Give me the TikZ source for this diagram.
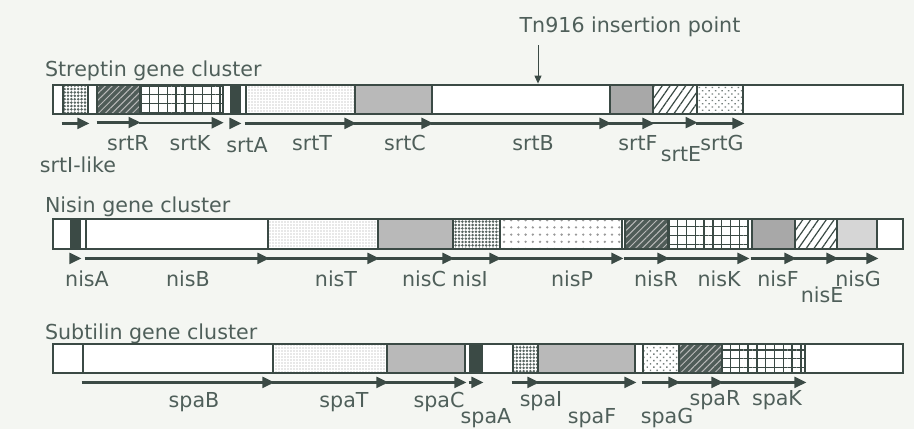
\documentclass[tikz,border=0pt]{standalone}
\usepackage{fontspec}
\setmainfont{DejaVu Sans}
\usetikzlibrary{positioning, arrows.meta, calc, fit, patterns.meta}
\definecolor{ink}{HTML}{3B4A45}
\definecolor{txt}{HTML}{4F5F5A}
\definecolor{paper}{HTML}{F4F6F2}

\begin{document}
\begin{tikzpicture}[x=0.5pt, y=-0.5pt,
      every node/.style={font=\fontsize{10.3}{12}\selectfont, color=txt},
      cluster/.style={anchor=base west},
      lbl/.style={anchor=base},
      bar/.style={draw=ink, line width=0.6pt, fill=white, inner sep=0pt},
      gene/.style={draw=ink, line width=1.4pt, inner sep=0pt},
      plain/.style={gene, fill=white},
      speck/.style={gene, preaction={fill=white},
        pattern={Dots[radius=0.7pt, distance=1.7pt]}, pattern color=ink!85},
      dark/.style={gene, preaction={fill=ink!90},
        pattern={Lines[angle=45, distance=2.4pt, line width=0.5pt]}, pattern color=gray!55},
      grid/.style={gene, preaction={fill=white},
        pattern={Hatch[angle=0, distance=4.4pt, line width=0.7pt]}, pattern color=ink},
      solid/.style={gene, fill=ink},
      fine/.style={gene, preaction={fill=white},
        pattern={Dots[radius=0.35pt, distance=1.5pt]}, pattern color=gray!75},
      grey/.style={gene, fill=gray!55},
      greydark/.style={gene, fill=gray!68},
      greylight/.style={gene, fill=gray!32},
      slant/.style={gene, preaction={fill=white},
        pattern={Lines[angle=55, distance=3.2pt, line width=0.6pt]}, pattern color=ink},
      wavy/.style={gene, preaction={fill=white},
        pattern={Dots[angle=45, radius=0.5pt, distance=2.3pt]}, pattern color=ink!70},
      sparse/.style={gene, preaction={fill=white},
        pattern={Dots[radius=0.65pt, distance=3.6pt]}, pattern color=gray!80},
      garrow/.style={draw=ink, line width=1.1pt, -{Triangle[length=6pt, width=5.5pt]}},
      tnarrow/.style={draw=ink, line width=0.5pt, -{Triangle[length=4pt, width=3.5pt]}}]

    \fill[paper] (0,0) rectangle (914,429);
    \useasboundingbox (0,0) rectangle (914,429);

    % streptin
    \node[cluster] (tStrep) at (38,76) {Streptin gene cluster};
    \node[bar, fit={(53,85) (903,114)}] (strep) {};
    \node[speck, fit={(63,85) (88,114)}] (srtI) {};
    \node[dark, fit={(97,85) (140,114)}] (srtR) {};
    \node[grid, fit={(140,85) (223,114)}] (srtK) {};
    \node[solid, fit={(231,85) (240,114)}] (srtA) {};
    \node[fine, fit={(246,85) (355,114)}] (srtT) {};
    \node[grey, fit={(355,85) (432,114)}] (srtC) {};
    \node[plain, fit={(432,85) (610,114)}] (srtB) {};
    \node[greydark, fit={(610,85) (653,114)}] (srtF) {};
    \node[slant, fit={(653,85) (697,114)}] (srtE) {};
    \node[wavy, fit={(697,85) (743,114)}] (srtG) {};

    \node[anchor=base] (tn) at (630,32) {Tn916 insertion point};
    \coordinate (ins) at (538,45);
    \draw[tnarrow] (ins) -- (ins |- srtB.north);

    % nisin
    \node[cluster] (tNis) at (38,212) {Nisin gene cluster};
    \node[bar, fit={(53,219) (903,249)}] (nis) {};
    \node[solid, fit={(71,219) (80,249)}] (nisA) {};
    \node[plain, fit={(86,219) (268,249)}] (nisB) {};
    \node[fine, fit={(268,219) (378,249)}] (nisT) {};
    \node[grey, fit={(378,219) (453,249)}] (nisC) {};
    \node[speck, fit={(453,219) (500,249)}] (nisI) {};
    \node[sparse, fit={(500,219) (622,249)}] (nisP) {};
    \node[dark, fit={(625,219) (668,249)}] (nisR) {};
    \node[grid, fit={(668,219) (748,249)}] (nisK) {};
    \node[greydark, fit={(752,219) (795,249)}] (nisF) {};
    \node[slant, fit={(795,219) (837,249)}] (nisE) {};
    \node[greylight, fit={(837,219) (877,249)}] (nisG) {};

    % subtilin
    \node[cluster] (tSpa) at (38,339) {Subtilin gene cluster};
    \node[bar, fit={(53,344) (903,373)}] (spa) {};
    \node[plain, fit={(83,344) (273,373)}] (spaB) {};
    \node[fine, fit={(273,344) (387,373)}] (spaT) {};
    \node[grey, fit={(387,344) (465,373)}] (spaC) {};
    \node[solid, fit={(470,344) (482,373)}] (spaA) {};
    \node[speck, fit={(513,344) (538,373)}] (spaI) {};
    \node[grey, fit={(538,344) (635,373)}] (spaF) {};
    \node[wavy, fit={(643,344) (679,373)}] (spaG) {};
    \node[dark, fit={(679,344) (722,373)}] (spaR) {};
    \node[grid, fit={(722,344) (805,373)}] (spaK) {};

    % reading direction
    \foreach \g in {srtI,srtR,srtK,srtA,srtT,srtC,srtB,srtF,srtE,srtG,
                    nisA,nisB,nisT,nisC,nisI,nisP,nisR,nisK,nisF,nisE,nisG,
                    spaB,spaT,spaC,spaA,spaI,spaF,spaG,spaR,spaK}
      \draw[garrow] ($(\g.south west)+(0,8)$) -- ($(\g.south east)+(0,8)$);

    % gene names
    \foreach \n/\t/\x/\y in {lsrtI/srtI-like/78/172, lsrtR/srtR/128/150,
        lsrtK/srtK/190/150, lsrtA/srtA/247/152, lsrtT/srtT/312/150,
        lsrtC/srtC/405/150, lsrtB/srtB/533/150, lsrtF/srtF/638/150,
        lsrtE/srtE/681/161, lsrtG/srtG/722/150,
        lnisA/nisA/87/286, lnisB/nisB/188/286, lnisT/nisT/336/286,
        lnisC/nisC/424/286, lnisI/nisI/470/286, lnisP/nisP/572/286,
        lnisR/nisR/656/286, lnisK/nisK/719/286, lnisF/nisF/778/286,
        lnisE/nisE/822/302, lnisG/nisG/858/286,
        lspaB/spaB/194/407, lspaT/spaT/344/407, lspaC/spaC/439/407,
        lspaA/spaA/486/423, lspaI/spaI/541/406, lspaF/spaF/592/423,
        lspaG/spaG/667/423, lspaR/spaR/715/405, lspaK/spaK/777/405}
      \node[lbl] (\n) at (\x,\y) {\t};
  \end{tikzpicture}
\end{document}
